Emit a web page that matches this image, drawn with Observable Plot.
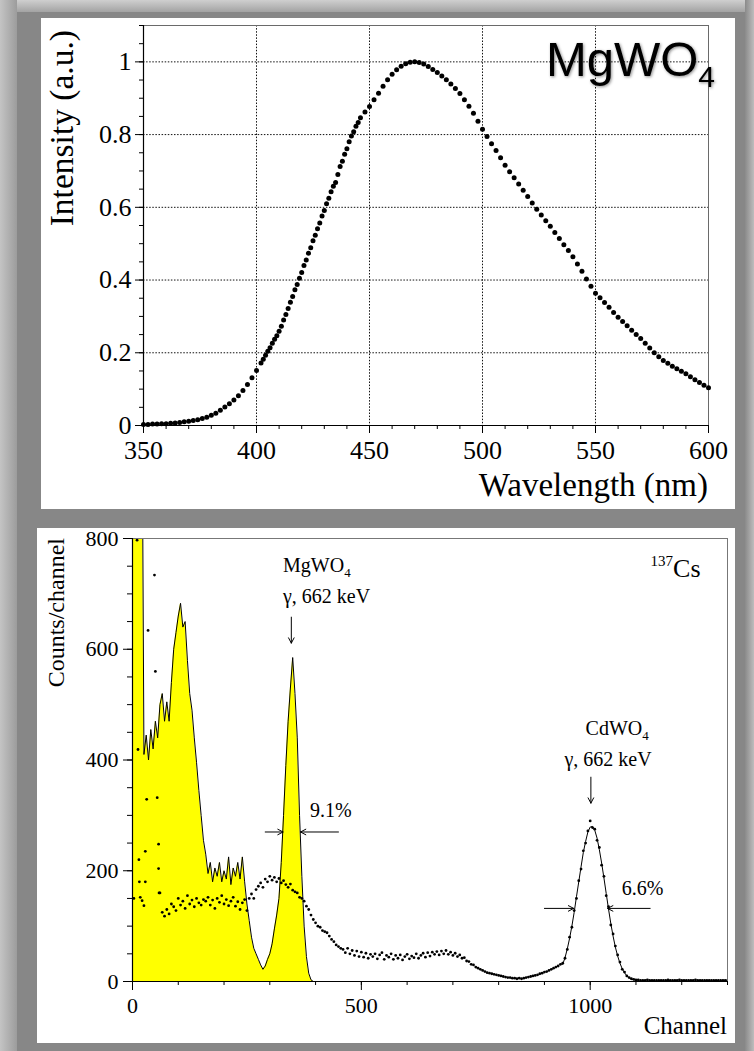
<!DOCTYPE html>
<html><head><meta charset="utf-8">
<script src="https://cdn.jsdelivr.net/npm/d3@7"></script>
<script src="https://cdn.jsdelivr.net/npm/@observablehq/plot@0.6"></script>
<style>
html,body{margin:0;padding:0;}
body{width:754px;height:1051px;background:#878787;position:relative;overflow:hidden;}
.bev{position:absolute;}
.panel{position:absolute;background:#fff;}
.panel svg{display:block;overflow:visible;}
</style></head><body>
<div class="bev" style="left:0;top:0;width:754px;height:12px;background:linear-gradient(#cfcfcf,#a3a3a3)"></div>
<div class="bev" style="left:0;top:0;width:17px;height:1051px;background:linear-gradient(to right,#c4c4c4,#9c9c9c)"></div>
<div class="bev" style="left:745px;top:0;width:9px;height:1051px;background:linear-gradient(to right,#8a8a8a,#bdbdbd)"></div>
<div id="top" class="panel" style="left:41px;top:18px;width:694px;height:491px"></div>
<div id="bot" class="panel" style="left:37px;top:528px;width:698px;height:515px"></div>
<script>
// ---------- Top panel data: luminescence spectrum of MgWO4 ----------
const wavelengthNm = [...d3.range(350, 403, 2), ...d3.range(403, 447, 1), ...d3.range(448, 601, 2)];
const intensity = [
  0.003,0.003,0.004,0.004,0.005,0.005,0.006,0.007,0.008,0.010,0.012,0.014,0.016,0.019,0.023,0.028,0.034,0.042,0.051,0.060,0.070,0.082,0.096,0.113,0.131,0.151,0.172,
  0.182,0.193,0.204,0.214,0.226,0.237,0.247,0.259,0.273,0.290,0.305,0.322,0.339,0.355,0.373,0.388,0.405,0.421,0.440,0.455,0.474,0.489,0.508,0.523,0.541,0.557,0.576,0.591,0.610,0.625,0.643,0.658,0.668,0.690,0.712,0.727,0.746,0.761,0.780,0.796,0.808,0.823,0.833,0.846,
  0.862,0.877,0.896,0.914,0.933,0.951,0.966,0.978,0.988,0.995,0.999,1.000,0.998,0.994,0.987,0.979,0.971,0.961,0.951,0.939,0.927,0.913,0.896,0.878,0.859,0.837,0.815,0.795,0.775,0.756,0.736,0.716,0.698,0.681,0.664,0.647,0.630,0.612,0.595,0.579,0.563,0.548,0.531,0.514,0.497,0.481,0.464,0.444,0.424,0.403,0.383,0.364,0.351,0.338,0.325,0.311,0.298,0.286,0.274,0.262,0.250,0.239,0.226,0.213,0.200,0.189,0.179,0.171,0.163,0.156,0.149,0.142,0.134,0.126,0.118,0.111,0.104
];
const xTicksNm = [350, 400, 450, 500, 550, 600];
const yTicksInt = [0, 0.2, 0.4, 0.6, 0.8, 1];

// ---------- Bottom panel data: 137Cs pulse-height spectra ----------
const mgChannels = d3.range(0, 401, 5);
const mgCounts = [
  1500,2000,1800,1500,1200,410,445,400,455,420,470,440,500,520,470,505,470,540,600,630,
  660,683,640,650,580,520,490,440,395,345,300,255,230,195,215,180,205,190,215,180,
  200,185,225,175,205,190,215,185,225,180,140,110,80,60,50,40,30,22,28,40,
  50,68,95,120,150,215,300,390,470,530,585,520,440,300,190,100,45,15,3,0,0
];
const cdLowChannels = [3, 10, 12, 14, 15, 17, 21, 25, 28, 28, 31, 34, 48, 50, 54, 57, 57, 58];
const cdLowCounts = [150, 797, 419, 220, 180, 152, 146, 137, 235, 180, 329, 634, 734, 560, 332, 248, 204, 160];
const cdChannels = d3.range(60, 1301, 5);
const cdCounts = [
  160,125,118,130,122,140,135,128,150,138,145,132,155,140,147,135,150,142,138,148,
  145,152,138,147,132,150,143,155,140,148,137,145,152,136,144,130,142,148,128,150,
  158,150,166,172,178,170,185,180,190,183,188,180,186,178,182,175,170,176,165,162,
  160,152,150,145,136,130,120,112,106,100,98,92,90,88,82,76,72,66,63,60,
  58,52,60,50,56,47,55,45,53,44,51,42,49,45,50,41,48,52,40,47,
  44,50,40,47,42,48,39,45,49,41,46,43,50,42,47,51,44,52,46,53,
  49,54,48,55,50,56,49,53,47,51,45,48,42,43,37,36,31,30,26,24,
  22,20,18,16,15,14,13,12,11,10,9,8,7,7,6,6,5,6,5,6,
  7,8,9,10,11,12,14,15,17,18,20,22,24,26,28,31,33,42,58,80,
  98,128,150,182,203,236,250,272,290,278,275,255,242,210,190,155,135,102,86,64,
  48,35,22,17,10,7,5,4,3,3,2,2,2,3,2,2,2,2,2,2,
  2,2,3,2,2,2,2,3,2,2,2,2,2,2,3,2,2,2,2,2,
  2,2,2,2,2,2,2,2,2
];
const fitChannels = d3.range(940, 1101, 5);
const fitCounts = [31,43,59,78,100,125,153,180,207,233,253,270,279,280,273,259,238,214,187,159,131,105,82,62,46,33,23,16,10,7,4,3,2];
const xTicksCh = [0, 500, 1000];
const yTicksCounts = [0, 200, 400, 600, 800];
// annotation arrows (data units: channel, counts)
const arrowX1 = [347, 1001.5, 290, 450, 900, 1131];
const arrowY1 = [658, 369, 270, 270, 132, 132];
const arrowX2 = [347, 1001.5, 329, 367, 964, 1038];
const arrowY2 = [611, 322, 270, 270, 132, 132];

const serif = "Liberation Serif";
const dotted = {stroke: "#111", strokeOpacity: 1, strokeWidth: 1, strokeDasharray: "1.5,1.6"};

// ---------- Top plot ----------
const spectrum = wavelengthNm.map((w, i) => ({w, v: intensity[i]}));
const topPlot = Plot.plot({
  width: 694, height: 491,
  marginLeft: 102, marginRight: 27, marginTop: 7, marginBottom: 84,
  x: {domain: [350, 600]},
  y: {domain: [0, 1.1]},
  style: {fontFamily: serif, fontSize: "25px", background: "transparent", color: "#000", overflow: "visible"},
  marks: [
    Plot.gridX(xTicksNm.slice(1, -1), dotted),
    Plot.gridY(yTicksInt.slice(1), dotted),
    Plot.frame({stroke: "#6a6a6a"}),
    Plot.ruleY([0], {stroke: "#000", strokeWidth: 1.2}),
    Plot.ruleX([350], {stroke: "#000", strokeWidth: 1.2}),
    Plot.axisX(d3.range(350, 601, 10), {tickSize: 4, tickFormat: () => "", label: null}),
    Plot.axisX(xTicksNm, {tickSize: 8, tickPadding: 7, label: null, fontSize: 26, tickFormat: d => String(d)}),
    Plot.axisY(d3.range(0, 23).map(i => i * 0.05), {tickSize: 4, tickFormat: () => "", label: null}),
    Plot.axisY(yTicksInt, {tickSize: 8, tickPadding: 4, label: null, fontSize: 26, tickFormat: d => String(+d.toFixed(1))}),
    Plot.dot(spectrum, {x: "w", y: "v", r: 2.5, fill: "#000"})
  ]
});
document.getElementById("top").appendChild(topPlot);
{
  const svg = d3.select(topPlot);
  const sx = topPlot.scale("x"), sy = topPlot.scale("y");
  const t = svg.append("text")
    .attr("x", sx.apply(600) + 7).attr("y", sy.apply(0.96))
    .attr("text-anchor", "end").attr("font-family", "Liberation Sans").attr("font-size", 49)
    .style("filter", "drop-shadow(1px 1px 1.5px rgba(0,0,0,0.45))");
  t.append("tspan").text("MgWO");
  t.append("tspan").attr("font-size", 30).attr("dy", 11).text("4");
  svg.append("text")
    .attr("transform", `translate(${sx.apply(350) - 70},${sy.apply(1.1) + 5}) rotate(-90)`)
    .attr("text-anchor", "end").attr("font-family", serif).attr("font-size", 33.5)
    .text("Intensity (a.u.)");
  svg.append("text")
    .attr("x", sx.apply(600)).attr("y", sy.apply(0) + 71)
    .attr("text-anchor", "end").attr("font-family", serif).attr("font-size", 33)
    .text("Wavelength (nm)");
}

// ---------- Bottom plot ----------
const mgData = mgChannels.map((c, i) => ({c, n: mgCounts[i]}));
const cdData = [
  ...cdLowChannels.map((c, i) => ({c, n: cdLowCounts[i]})),
  ...cdChannels.map((c, i) => ({c, n: cdCounts[i]}))
];
const fitData = fitChannels.map((c, i) => ({c, n: fitCounts[i]}));
const arrows = arrowX1.map((x1, i) => ({x1, y1: arrowY1[i], x2: arrowX2[i], y2: arrowY2[i]}));

const botPlot = Plot.plot({
  width: 698, height: 515,
  marginLeft: 95, marginRight: 8, marginTop: 10, marginBottom: 62,
  x: {domain: [0, 1300]},
  y: {domain: [0, 800]},
  style: {fontFamily: serif, fontSize: "22px", background: "transparent", color: "#000", overflow: "visible"},
  marks: [
    Plot.areaY(mgData, {x: "c", y: "n", fill: "#ffff00", clip: true}),
    Plot.lineY(mgData, {x: "c", y: "n", stroke: "#000", strokeWidth: 1, clip: true}),
    Plot.dot(cdData, {x: "c", y: "n", r: 1.4, fill: "#000", clip: true}),
    Plot.line(fitData, {x: "c", y: "n", stroke: "#000", strokeWidth: 1}),
    Plot.frame({stroke: "#777"}),
    Plot.ruleY([0], {stroke: "#000", strokeWidth: 1.2}),
    Plot.ruleX([0], {stroke: "#000", strokeWidth: 1.2}),
    Plot.axisX(d3.range(0, 1301, 100), {tickSize: 4, tickFormat: () => "", label: null}),
    Plot.axisX(xTicksCh, {tickSize: 9, tickPadding: 7, label: null, fontSize: 22, tickFormat: d => String(d)}),
    Plot.axisY(d3.range(0, 801, 50), {tickSize: 5, tickFormat: () => "", label: null}),
    Plot.axisY(yTicksCounts, {tickSize: 9, tickPadding: 5, label: null, fontSize: 22, tickFormat: d => String(d)}),
    Plot.arrow(arrows, {x1: "x1", y1: "y1", x2: "x2", y2: "y2", stroke: "#000", strokeWidth: 1, headLength: 9, headAngle: 55})
  ]
});
document.getElementById("bot").appendChild(botPlot);
{
  const svg = d3.select(botPlot);
  const sx = botPlot.scale("x"), sy = botPlot.scale("y");
  const txt = (ch, cnt, size) => svg.append("text")
    .attr("x", sx.apply(ch)).attr("y", sy.apply(cnt))
    .attr("text-anchor", "start")
    .attr("font-family", serif).attr("font-size", size);
  let t = txt(330, 739, 20); t.append("tspan").text("MgWO"); t.append("tspan").attr("font-size", 13).attr("dy", 5).text("4");
  txt(330, 683, 20).text("γ, 662 keV");
  t = txt(991, 444, 20); t.append("tspan").text("CdWO"); t.append("tspan").attr("font-size", 13).attr("dy", 5).text("4");
  txt(945, 388, 20).text("γ, 662 keV");
  txt(389, 296, 20).text("9.1%");
  txt(1070, 155, 20).text("6.6%");
  t = txt(1133, 730, 26); t.append("tspan").attr("font-size", 15).attr("dy", -11).text("137"); t.append("tspan").attr("dy", 11).text("Cs");
  svg.append("text")
    .attr("transform", `translate(${sx.apply(0) - 68},${sy.apply(800)}) rotate(-90)`)
    .attr("text-anchor", "end").attr("font-family", serif).attr("font-size", 24)
    .text("Counts/channel");
  svg.append("text")
    .attr("x", sx.apply(1300)).attr("y", sy.apply(0) + 53)
    .attr("text-anchor", "end").attr("font-family", serif).attr("font-size", 25)
    .text("Channel");
}
</script>
</body></html>
